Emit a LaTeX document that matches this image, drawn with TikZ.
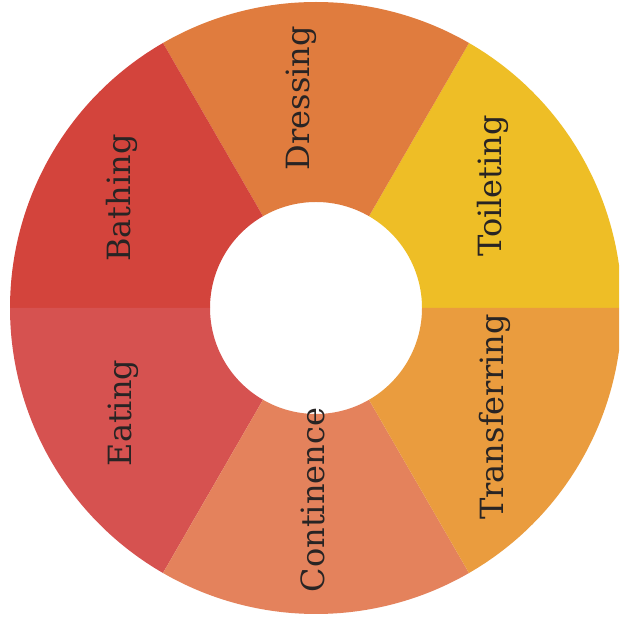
\documentclass[tikz,border=0pt]{standalone}
\usepackage{fontspec}
\setmainfont{DejaVu Serif}
\definecolor{cDress}{RGB}{224,124,62}
\definecolor{cToil}{RGB}{238,190,38}
\definecolor{cTrans}{RGB}{234,156,62}
\definecolor{cCont}{RGB}{228,130,92}
\definecolor{cEat}{RGB}{214,82,80}
\definecolor{cBath}{RGB}{211,68,60}
\definecolor{txt}{RGB}{40,36,36}
\tikzset{
  lbl/.style={font=\fontsize{32}{34}\selectfont, text=txt, rotate=90, inner sep=0pt}
}
\newcommand{\sector}[3]{%
  \fill[#3] (316,326) ++(#1:306) arc[start angle=#1, end angle=#2, radius=306]
    -- ($(316,326)+(#2:106)$) arc[start angle=#2, end angle=#1, radius=106] -- cycle;}
\usetikzlibrary{calc}
\begin{document}
\begin{tikzpicture}[x=1pt,y=1pt]
\useasboundingbox (0,0) rectangle (619,634);
\fill[white] (0,0) rectangle (619,634);
\begin{scope}
\clip (0,0) rectangle (619,634);
\sector{0}{60}{cToil}
\sector{60}{120}{cDress}
\sector{120}{180}{cBath}
\sector{180}{240}{cEat}
\sector{240}{300}{cCont}
\sector{300}{360}{cTrans}
\end{scope}
\node[lbl] (dress) at (301,{634-98}) {Dressing};
\node[lbl] (bath) at (122,{634-198}) {Bathing};
\node[lbl] (toil) at (493,{634-186}) {Toileting};
\node[lbl] (trans) at (495,{634-417}) {Transferring};
\node[lbl] (cont) at (313,{634-500}) {Continence};
\node[lbl] (eat) at (123,{634-413}) {Eating};
\end{tikzpicture}
\end{document}
